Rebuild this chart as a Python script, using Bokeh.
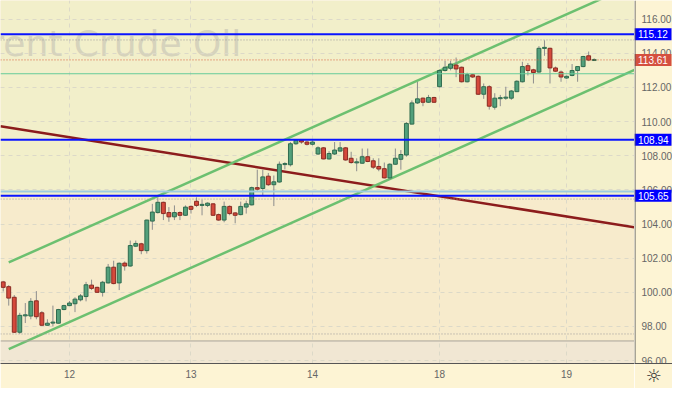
from bokeh.plotting import figure
from bokeh.layouts import row
from bokeh.models import Span, FixedTicker, BoxAnnotation, Range1d, ColumnDataSource, Grid
from bokeh.core.properties import value
from bokeh.embed import file_html
from bokeh.resources import INLINE

# ---- hourly candles (Brent Crude Oil, 12-19 Apr) ----
opens = [100.61, 100.33, 99.71, 97.66, 98.62, 98.61, 99.50, 98.80, 98.07, 98.20,
         98.19, 98.99, 99.22, 99.33, 99.56, 99.75, 100.42, 100.29, 100.00, 100.55,
         101.47, 100.55, 101.71, 101.54, 102.70, 102.84, 102.44, 104.17, 104.67, 105.27,
         104.67, 104.42, 104.67, 104.51, 105.03, 105.33, 105.10, 105.09, 105.18, 104.55,
         104.23, 105.03, 104.65, 104.55, 104.99, 105.12, 106.13, 106.08, 106.80, 106.30,
         106.46, 107.50, 107.47, 108.70, 108.90, 108.80, 108.67, 108.10, 108.46, 107.81,
         108.10, 108.27, 108.46, 107.85, 107.60, 107.56, 107.94, 107.70, 107.37, 107.24,
         106.70, 107.50, 107.79, 108.04, 109.85, 111.09, 111.37, 111.13, 111.41, 112.04,
         112.99, 113.12, 113.31, 113.18, 112.33, 112.74, 112.65, 111.60, 112.04, 110.84,
         111.35, 111.37, 111.37, 111.75, 112.33, 113.27, 113.03, 112.90, 114.30, 114.29,
         113.14, 112.90, 112.55, 112.70, 112.99, 113.22, 113.85, 113.60]
highs = [100.67, 100.42, 99.84, 98.80, 99.37, 99.66, 100.07, 98.90, 98.42, 99.22,
         99.03, 99.27, 99.49, 99.71, 99.90, 100.61, 100.74, 100.33, 100.67, 101.66,
         101.85, 101.75, 101.81, 103.03, 103.03, 102.90, 104.25, 105.18, 105.56, 105.31,
         104.99, 105.09, 104.74, 105.09, 105.09, 105.56, 105.43, 105.27, 105.22, 104.61,
         105.31, 105.09, 104.70, 105.31, 105.37, 106.19, 107.18, 107.18, 106.99, 106.84,
         107.66, 107.62, 108.80, 108.97, 108.95, 108.87, 108.90, 108.55, 108.51, 108.27,
         108.80, 108.80, 108.51, 108.23, 107.85, 108.42, 108.42, 107.85, 107.85, 107.60,
         107.56, 108.42, 108.33, 109.97, 111.24, 112.32, 111.41, 111.56, 111.45, 113.05,
         113.56, 113.56, 113.75, 113.22, 112.86, 112.80, 112.70, 112.23, 112.13, 111.66,
         111.56, 112.04, 111.85, 112.42, 113.50, 113.43, 113.09, 114.42, 114.76, 114.33,
         113.22, 112.99, 112.70, 113.37, 113.24, 113.85, 114.10, 113.70]
lows = [100.05, 99.22, 97.62, 97.56, 98.20, 98.42, 98.42, 98.04, 98.04, 98.00,
        98.17, 98.95, 99.20, 98.84, 99.47, 99.47, 100.13, 99.98, 99.75, 100.51,
        100.47, 100.13, 101.27, 101.50, 102.65, 102.23, 102.27, 103.66, 104.61, 104.23,
        104.13, 104.23, 104.23, 104.47, 104.61, 104.99, 104.51, 104.99, 104.47, 104.19,
        104.10, 104.51, 104.04, 104.51, 104.61, 105.09, 105.94, 105.66, 106.23, 105.05,
        106.42, 107.20, 107.37, 108.63, 108.70, 108.60, 108.60, 108.04, 107.79, 107.77,
        108.04, 108.23, 107.71, 107.53, 107.09, 107.53, 107.62, 107.22, 107.09, 106.67,
        106.61, 107.47, 107.18, 107.94, 109.83, 111.03, 110.90, 111.09, 111.09, 112.00,
        112.93, 113.00, 112.60, 112.29, 112.29, 112.55, 111.56, 111.33, 110.70, 110.70,
        110.90, 111.27, 111.27, 111.73, 112.29, 112.70, 112.23, 112.86, 113.85, 112.23,
        112.90, 112.33, 112.50, 112.65, 112.33, 113.18, 113.54, 113.56]
closes = [100.29, 99.66, 97.66, 98.65, 98.68, 99.47, 98.57, 98.07, 98.19, 98.25,
          98.99, 99.22, 99.37, 99.60, 99.79, 100.44, 100.23, 100.00, 100.59, 101.47,
          100.51, 101.70, 101.54, 102.74, 102.86, 102.44, 104.23, 104.70, 105.27, 104.61,
          104.42, 104.67, 104.51, 104.99, 104.86, 105.09, 105.14, 105.22, 104.51, 104.23,
          105.03, 104.61, 104.51, 105.03, 105.18, 106.13, 106.04, 106.76, 106.30, 106.47,
          107.50, 107.52, 108.70, 108.90, 108.80, 108.67, 108.80, 108.46, 107.81, 108.13,
          108.33, 108.46, 107.75, 107.60, 107.62, 107.94, 107.66, 107.33, 107.22, 106.70,
          107.50, 107.85, 108.07, 109.89, 111.09, 111.33, 111.13, 111.41, 111.13, 112.99,
          113.18, 113.37, 113.08, 112.33, 112.74, 112.61, 111.60, 112.04, 110.90, 111.37,
          111.39, 111.43, 111.79, 112.36, 113.22, 112.99, 112.87, 114.29, 114.33, 113.14,
          112.95, 112.61, 112.65, 112.99, 113.22, 113.81, 113.60, 113.61]

day_ticks = [12, 34, 56, 79, 102]
day_labels = ["12", "13", "14", "18", "19"]
price_ticks = [96, 98, 100, 102, 104, 106, 108, 110, 112, 114, 116]

blue_levels = [115.12, 108.94, 105.65]
last_price = 113.61
range_high = 114.78
range_low = 97.56
prev_close = 112.80
light_level = 105.90
dotted_level = 105.46
floor_level = 97.15

upper_channel_x = [1.0, 114.3]
upper_channel_y = [101.75, 118.05]
lower_channel_x = [1.0, 114.3]
lower_channel_y = [96.67, 113.03]
trend_x = [-0.49, 114.3]
trend_y = [109.72, 103.81]

watermark = "Brent Crude Oil"
settings_icon = "\u263c"

X0, X1 = -0.49, 114.3
Y0, Y1 = 95.83, 117.09
HEIGHT, BOTTOM = 388, 24
AXIS_BG = "#fdf4d4"

price_range = Range1d(Y0, Y1)


def style_bottom_axis(ax, font, size, color, standoff):
    ax.major_tick_line_color = None
    ax.minor_tick_line_color = None
    ax.major_tick_out = 0
    ax.major_tick_in = 0
    ax.minor_tick_out = 0
    ax.minor_tick_in = 0
    ax.axis_line_color = "#555555"
    ax.major_label_text_font = font
    ax.major_label_text_font_size = size
    ax.major_label_text_color = color
    ax.major_label_standoff = standoff


p = figure(width=634, height=HEIGHT, x_range=Range1d(X0, X1), y_range=price_range,
           y_axis_location=None, output_backend="svg", toolbar_location=None,
           min_border_left=0, min_border_top=0, min_border_right=0, min_border_bottom=BOTTOM,
           background_fill_color="#f7ebcc", border_fill_color=AXIS_BG,
           outline_line_color=None)

# background zones
p.add_layout(BoxAnnotation(bottom=blue_levels[2], fill_color="#f2efca", fill_alpha=1,
                           line_color=None, level="image"))
p.add_layout(BoxAnnotation(top=floor_level, fill_color="#f1e7d3", fill_alpha=1,
                           line_color=None, level="image"))

# time axis
xa = p.xaxis[0]
xa.ticker = FixedTicker(ticks=day_ticks)
xa.major_label_overrides = {t: l for t, l in zip(day_ticks, day_labels)}
style_bottom_axis(xa, "Liberation Sans", "10px", "#666666", 6)

p.xgrid.ticker = FixedTicker(ticks=day_ticks)
p.xgrid.grid_line_color = "#dcd9c8"
p.xgrid.grid_line_dash = "4 4"
p.ygrid.visible = False
p.add_layout(Grid(dimension=1, ticker=FixedTicker(ticks=price_ticks),
                  grid_line_color="#dcd9c8", grid_line_dash="4 4"))

# watermark
p.text(x=[-7.0], y=[114.55], text=[watermark], text_font=value("DejaVu Sans"),
       text_font_size="36px", text_color="#d6d3bc", text_baseline="alphabetic",
       text_align="left", level="underlay")

# horizontal levels
p.add_layout(Span(location=floor_level, dimension="width", line_color="#aaa49a", line_width=1))
p.add_layout(Span(location=light_level, dimension="width", line_color="#9ccbe0", line_width=2))
p.add_layout(Span(location=dotted_level, dimension="width", line_color="#9a9a9a", line_width=1, line_dash="1 2"))
p.add_layout(Span(location=range_high, dimension="width", line_color="#9a9a9a", line_width=1, line_dash="1 2"))
p.add_layout(Span(location=range_low, dimension="width", line_color="#9a9a9a", line_width=1, line_dash="1 2"))
p.add_layout(Span(location=prev_close, dimension="width", line_color="#66cc99", line_width=1))
p.add_layout(Span(location=last_price, dimension="width", line_color="#d9603f", line_width=1, line_dash="1 2"))

# trend lines
p.line(trend_x, trend_y, line_color="#8c1c1c", line_width=2.5)
p.line(upper_channel_x, upper_channel_y, line_color="#6cc070", line_width=2.5)
p.line(lower_channel_x, lower_channel_y, line_color="#6cc070", line_width=2.5)

# candles
idx = list(range(len(opens)))
tops, bottoms, fills, edges = [], [], [], []
for o, c in zip(opens, closes):
    t, b = max(o, c), min(o, c)
    if t - b < 0.05:
        m = (t + b) / 2
        t, b = m + 0.03, m - 0.03
    tops.append(t)
    bottoms.append(b)
    up = c >= o
    fills.append("#52a07b" if up else "#d5493b")
    edges.append("#2f6b4f" if up else "#8a2a22")
src = ColumnDataSource(dict(x=idx, h=highs, l=lows, t=tops, b=bottoms, f=fills, e=edges))
p.segment(x0="x", y0="h", x1="x", y1="l", source=src, line_color="#8d8d8d", line_width=1)
p.vbar(x="x", width=0.7, top="t", bottom="b", source=src, fill_color="f", line_color="e", line_width=1)

for lvl in blue_levels:
    p.add_layout(Span(location=lvl, dimension="width", line_color="#0a14ff", line_width=2))

# ---- price scale strip (shares the price range of the chart) ----
s = figure(width=38, height=HEIGHT, x_range=Range1d(0, 38), y_range=price_range,
           y_axis_location=None, output_backend="svg", toolbar_location=None,
           min_border_left=0, min_border_top=0, min_border_right=0, min_border_bottom=BOTTOM,
           background_fill_color=AXIS_BG, border_fill_color=AXIS_BG,
           outline_line_color=None)
s.grid.visible = False
sa = s.xaxis[0]
sa.ticker = FixedTicker(ticks=[19])
sa.major_label_overrides = {19: settings_icon}
style_bottom_axis(sa, "DejaVu Sans", "18px", "#333333", 1)
s.add_layout(Span(location=0.5, dimension="height", line_color="#555555", line_width=1))

s.text(x=[7] * len(price_ticks), y=price_ticks, text=[f"{t:.2f}" for t in price_ticks],
       text_font=value("Liberation Sans"), text_font_size="10px", text_color="#666666",
       text_baseline="middle", text_align="left")

tag_levels = blue_levels + [last_price]
tag_colors = ["#0000ff"] * len(blue_levels) + ["#d5503f"]
s.rect(x=[18.5] * len(tag_levels), y=tag_levels, width=37, height=12, height_units="screen",
       fill_color=tag_colors, line_color=None)
s.text(x=[3.5] * len(tag_levels), y=tag_levels, text=[f"{v:.2f}" for v in tag_levels],
       text_font=value("Liberation Sans"), text_font_size="10px", text_color="white",
       text_baseline="middle", text_align="left")

layout = row(p, s)
open("out.html", "w").write(file_html(layout, INLINE))
